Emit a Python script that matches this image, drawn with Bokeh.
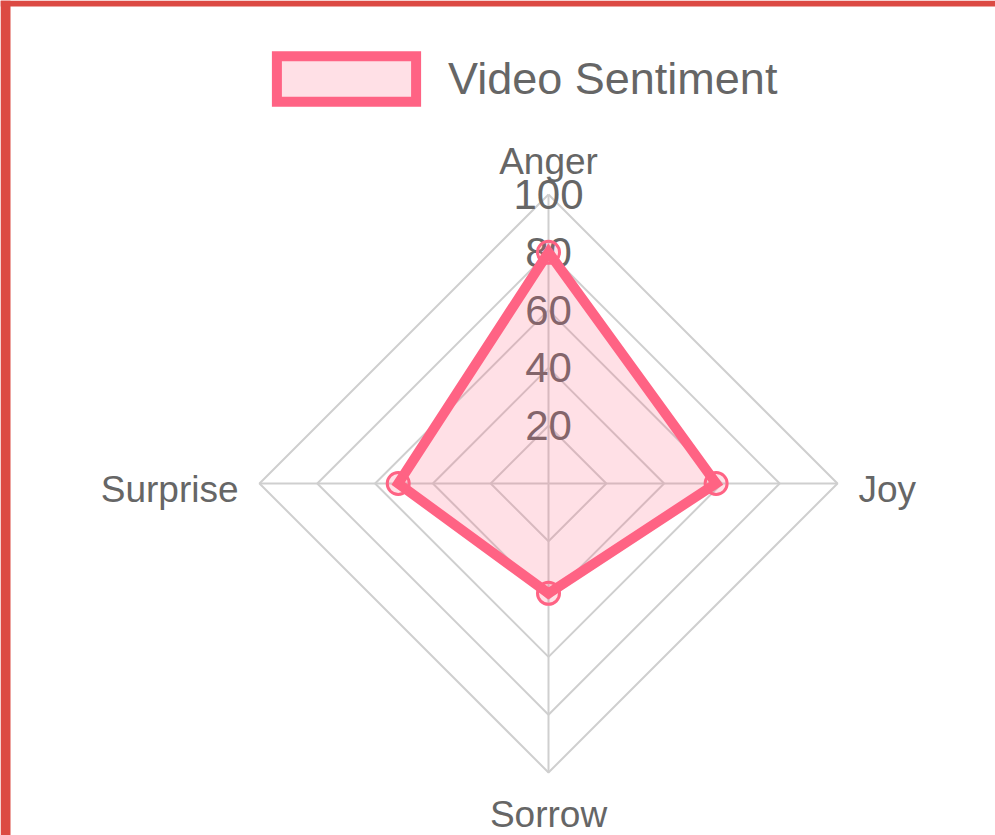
import math
from bokeh.plotting import figure
from bokeh.models import Range1d, Legend, LegendItem, GlobalInlineStyleSheet
from bokeh.core.properties import value
from bokeh.embed import file_html
from bokeh.resources import INLINE

# ---- data ----
categories = ["Anger", "Joy", "Sorrow", "Surprise"]
sentiment = [80, 58, 38, 52]
ticks = [20, 40, 60, 80, 100]
tick_labels = ["20", "40", "60", "80", "100"]
series_name = "Video Sentiment"
r_max = 100

# ---- layout ----
W, H = 995, 835
CX, CY = 548, 483      # centre of radar in page pixels
RPX = 289              # pixels for r_max
s = RPX / r_max

FONT = "Liberation Sans"
TXT = "#666666"
PINK = "#ff6384"
GRID = "#cfcfcf"

def px_x(x):
    return (x - CX) / s

def px_y(y):
    return (CY - y) / s

p = figure(width=W, height=H, output_backend="svg", toolbar_location=None,
           x_range=Range1d(px_x(0), px_x(W)), y_range=Range1d(px_y(H), px_y(0)),
           min_border=0, outline_line_color=None,
           x_axis_location=None, y_axis_location=None)
p.grid.visible = False
p.background_fill_color = "white"
p.border_fill_color = "white"
p.stylesheets = [GlobalInlineStyleSheet(css="html, body { margin: 0 !important; padding: 0; overflow: hidden; }")]

# red frame of the screenshot
p.quad(left=px_x(0), right=px_x(10), top=px_y(0), bottom=px_y(H), color="#dc4a43", line_width=0)
p.quad(left=px_x(0), right=px_x(W), top=px_y(0), bottom=px_y(6), color="#dc4a43", line_width=0)

n = len(categories)
angles = [math.pi / 2 - i * 2 * math.pi / n for i in range(n)]

# grid polygons
gx, gy = [], []
for t in ticks:
    gx.append([t * math.cos(a) for a in angles] + [t * math.cos(angles[0])])
    gy.append([t * math.sin(a) for a in angles] + [t * math.sin(angles[0])])
p.multi_line(gx, gy, line_color=GRID, line_width=2)

# angle lines
p.segment(x0=[0] * n, y0=[0] * n,
          x1=[r_max * math.cos(a) for a in angles],
          y1=[r_max * math.sin(a) for a in angles],
          line_color=GRID, line_width=2)

# tick labels
p.text(x=[0] * len(ticks), y=ticks, text=tick_labels,
       text_font=value(FONT), text_font_size="42px", text_color=TXT,
       text_align="center", text_baseline="middle")

# point labels
for cat, a in zip(categories, angles):
    c, sn = math.cos(a), math.sin(a)
    if sn > 0.5:
        align, xo, yo = "center", 0, -33
    elif sn < -0.5:
        align, xo, yo = "center", 0, 42
    elif c > 0:
        align, xo, yo = "left", 21, 6
    else:
        align, xo, yo = "right", -21, 6
    p.text(x=[r_max * c], y=[r_max * sn], text=[cat],
           text_font=value(FONT), text_font_size="37px", text_color=TXT,
           text_align=align, text_baseline="alphabetic",
           x_offset=xo, y_offset=yo)

# dataset
dx = [v * math.cos(a) for v, a in zip(sentiment, angles)]
dy = [v * math.sin(a) for v, a in zip(sentiment, angles)]
area = p.patch(dx, dy, fill_color=PINK, fill_alpha=0.2,
               line_color=PINK, line_width=10, line_join="miter")
p.scatter(dx, dy, size=22, fill_color=PINK, fill_alpha=0.2,
          line_color=PINK, line_width=3)

legend = Legend(items=[LegendItem(label=series_name, renderers=[area])],
                location=(259, 728), orientation="horizontal",
                glyph_width=174, glyph_height=57, label_standoff=15,
                label_text_font=FONT, label_text_font_size="45px",
                label_text_color=TXT, padding=0, margin=0, spacing=0,
                border_line_alpha=0, background_fill_alpha=0)
p.add_layout(legend)

open("out.html", "w").write(file_html(p, INLINE))
